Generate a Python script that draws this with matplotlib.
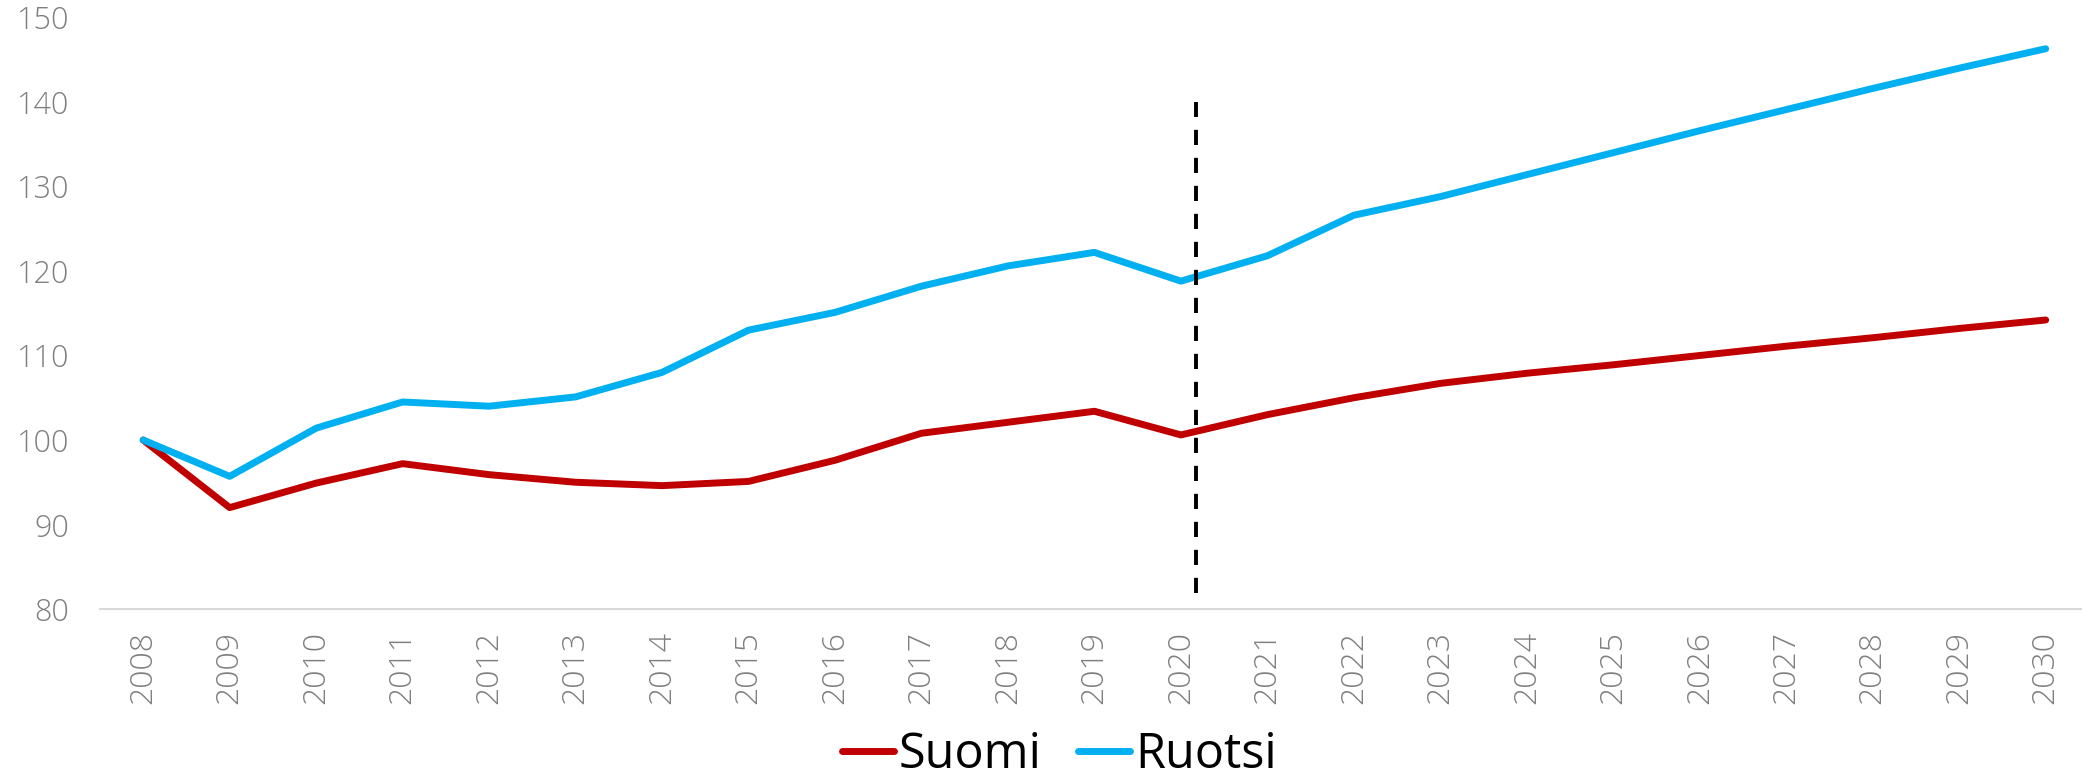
import numpy as np
import matplotlib
matplotlib.use('Agg')
import matplotlib.pyplot as plt

# index, 2008 = 100
years = list(range(2008, 2031))
suomi = [100, 92.0, 94.9, 97.2, 95.9, 95.0, 94.6, 95.1, 97.6, 100.8, 102.1, 103.4,
         100.6, 103.0, 105.0, 106.7, 107.9, 108.9, 110.0, 111.1, 112.1, 113.2, 114.2]
ruotsi = [100, 95.7, 101.4, 104.5, 104.0, 105.1, 108.0, 113.0, 115.1, 118.2, 120.6, 122.2,
          118.8, 121.8, 126.6, 128.8, 131.4, 134.0, 136.6, 139.1, 141.6, 144.0, 146.3]
labels = ['Suomi', 'Ruotsi']
forecast_x = 2020.17
forecast_y = (81.9, 140.0)

plt.rcParams['font.family'] = ['Open Sans', 'DejaVu Sans']

fig = plt.figure(figsize=(20.82, 7.83), dpi=100)
ax = fig.add_axes([0.048, 0.2222, 0.952, 0.7555])

ax.plot(years, suomi, color='#C00000', lw=5, solid_capstyle='round',
        solid_joinstyle='round', label=labels[0])
ax.plot(years, ruotsi, color='#00B0F0', lw=5, solid_capstyle='round',
        solid_joinstyle='round', label=labels[1])
ax.plot([forecast_x, forecast_x], forecast_y, color='black', lw=2.8,
        dashes=(3.9, 3.3))

ax.set_xlim(2007.5, 2030.42)
ax.set_ylim(80, 150)
ax.set_yticks(np.arange(80, 151, 10))
ax.set_xticks(years)
ax.set_xticklabels([str(y) for y in years], rotation=90)

for side in ['top', 'right', 'left']:
    ax.spines[side].set_visible(False)
ax.spines['bottom'].set_color('#D9D9D9')
ax.spines['bottom'].set_linewidth(1.5)
ax.tick_params(axis='both', length=0, labelcolor='#7F7F7F')
ax.tick_params(axis='y', pad=22, labelsize=22)
ax.tick_params(axis='x', pad=16, labelsize=23)
for t in ax.get_xticklabels() + ax.get_yticklabels():
    t.set_fontweight('light')

fig.legend(loc='center', bbox_to_anchor=(0.5087, 0.036), ncol=2, frameon=False,
           fontsize=35, handlelength=1.08, handletextpad=0.1, columnspacing=0.74)

plt.savefig('out.png', dpi=100)
